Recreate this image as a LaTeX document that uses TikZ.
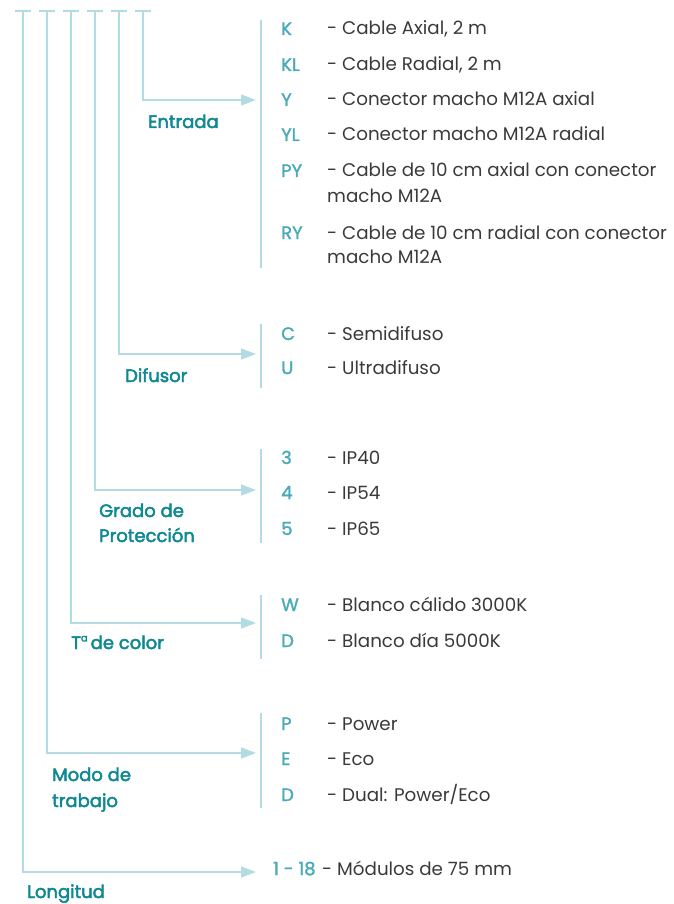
\documentclass[tikz,border=0pt]{standalone}
\usepackage{fontspec}
\setmainfont{Poppins}
\newfontfamily\medf{Poppins}[FakeBold=1.6]
\newfontfamily\labf{Poppins}[FakeBold=2.6]
\usetikzlibrary{arrows.meta}
\definecolor{linec}{HTML}{B3DBE2}
\definecolor{codec}{HTML}{4AAAB8}
\definecolor{labc}{HTML}{0E8893}
\definecolor{txtc}{HTML}{3A3A3A}
\tikzset{
  x=1pt,y=-1pt,
  conn/.style={draw=linec,line width=1.4pt,-{Triangle[length=15pt,width=11pt]}},
  tick/.style={draw=linec,line width=1.4pt},
  brk/.style={draw=linec,line width=1.4pt},
  code/.style={anchor=base west,inner sep=0pt,text=codec,font=\medf\fontsize{18}{22}\selectfont},
  desc/.style={anchor=base west,inner sep=0pt,text=txtc,font=\fontsize{18.3}{22}\selectfont},
  lab/.style={anchor=base west,inner sep=0pt,text=labc,font=\labf\fontsize{18}{22}\selectfont},
}
\begin{document}
\begin{tikzpicture}
\useasboundingbox (0,0) rectangle (673,904);
% top ticks
\foreach \n/\x in {lo/23,mo/47,tc/71,gr/95,di/119,en/143}{
  \coordinate (top\n) at (\x,11);
  \draw[tick] (\x-8,11) -- (\x+8,11);
}
% arrow tips
\coordinate (tipen) at (256,100);
\coordinate (tipdi) at (256,354);
\coordinate (tipgr) at (256,490);
\coordinate (tiptc) at (256,623);
\coordinate (tipmo) at (256,753);
\coordinate (tiplo) at (256,872);
\foreach \n in {en,di,gr,tc,mo,lo}{
  \draw[conn] (top\n) |- (tip\n);
}
% brackets
\foreach \a/\b [count=\i] in {20/268,324/388,449/543,595/659,713/808}{
  \coordinate (bt\i) at (261,\a);
  \coordinate (bb\i) at (261,\b);
  \draw[brk] (bt\i) -- (bb\i);
}
% labels
\node[lab] (lEn) at (148,128) {Entrada};
\node[lab] (lDi) at (125,382) {Difusor};
\node[lab] (lGr) at (99,517) {Grado de};
\node[lab] (lGr2) at (99,542) {Protección};
\node[lab] (lTc) at (71,649) {T\raisebox{0.42em}{\fontsize{10}{10}\selectfont a}\,de color};
\node[lab] (lMo) at (52,781) {Modo de};
\node[lab] (lMo2) at (52,807) {trabajo};
\node[lab] (lLo) at (27,898) {Longitud};
% Entrada
\node[code] (cK) at (281,35) {K};
\node[desc] (dK) at (327,35) {- Cable Axial, 2 m};
\node[code] (cKL) at (281,71) {KL};
\node[desc] (dKL) at (327,71) {- Cable Radial, 2 m};
\node[code] (cY) at (281,106) {Y};
\node[desc] (dY) at (327,106) {- Conector macho M12A axial};
\node[code] (cYL) at (281,141) {YL};
\node[desc] (dYL) at (327,141) {- Conector macho M12A radial};
\node[code] (cPY) at (281,177) {PY};
\node[desc] (dPY) at (327,177) {- Cable de 10 cm axial con conector};
\node[desc] (dPY2) at (327,202) {macho M12A};
\node[code] (cRY) at (281,239) {RY};
\node[desc] (dRY) at (327,239) {- Cable de 10 cm radial con conector};
\node[desc] (dRY2) at (327,263) {macho M12A};
% Difusor
\node[code] (cC) at (281,340) {C};
\node[desc] (dC) at (327,340) {- Semidifuso};
\node[code] (cU) at (281,374) {U};
\node[desc] (dU) at (327,374) {- Ultradifuso};
% Grado
\node[code] (c3) at (281,464) {3};
\node[desc] (d3) at (327,464) {- IP40};
\node[code] (c4) at (281,499) {4};
\node[desc] (d4) at (327,499) {- IP54};
\node[code] (c5) at (281,535) {5};
\node[desc] (d5) at (327,535) {- IP65};
% Tc
\node[code] (cW) at (281,611) {W};
\node[desc] (dW) at (327,611) {- Blanco cálido 3000K};
\node[code] (cD) at (281,647) {D};
\node[desc] (dD) at (327,647) {- Blanco día 5000K};
% Modo
\node[code] (cP) at (281,730) {P};
\node[desc] (dP) at (327,730) {- Power};
\node[code] (cE) at (281,765) {E};
\node[desc] (dE) at (327,765) {- Eco};
\node[code] (cDD) at (281,801) {D};
\node[desc] (dDD) at (327,801) {- Dual: Power/Eco};
% Longitud
\node[code] (c118) at (273,875) {1 - 18};
\node[desc] (d118) at (322,875) {- Módulos de 75 mm};
\end{tikzpicture}
\end{document}
